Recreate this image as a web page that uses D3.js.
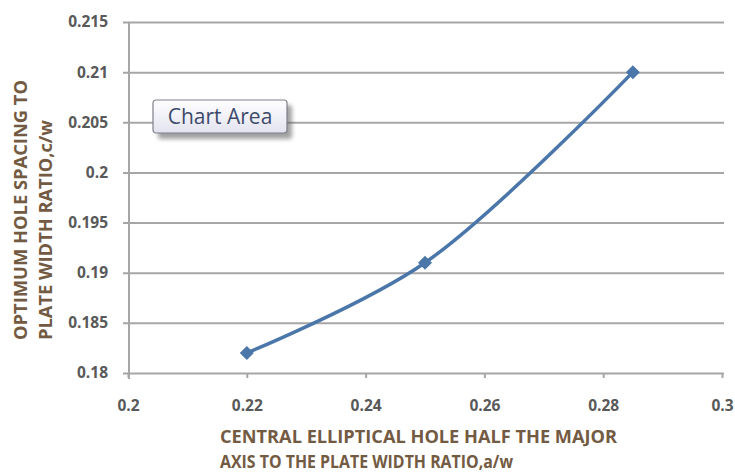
<!DOCTYPE html>
<html>
<head>
<meta charset="utf-8">
<script src="https://cdn.jsdelivr.net/npm/d3@7"></script>
<style>
  html, body { margin: 0; padding: 0; background: #ffffff; }
  svg { display: block; }
</style>
</head>
<body>
<svg id="chart" width="735" height="473"></svg>
<script>
// Central elliptical hole half major axis ratio (a/w) vs optimum hole spacing ratio (c/w)
const aOverW = [0.22, 0.25, 0.285];
const cOverW = [0.182, 0.191, 0.21];
const xTicks = [0.2, 0.22, 0.24, 0.26, 0.28, 0.3];
const yTicks = [0.18, 0.185, 0.19, 0.195, 0.2, 0.205, 0.21, 0.215];
const xTitleLines = ["CENTRAL ELLIPTICAL HOLE HALF THE MAJOR", "AXIS TO THE PLATE WIDTH RATIO,a/w"];
const yTitleLines = ["OPTIMUM HOLE SPACING TO", "PLATE WIDTH RATIO,c/w"];

const svg = d3.select("#chart");
const plotL = 129, plotR = 723, plotT = 22, plotB = 373;

const x = d3.scaleLinear().domain([0.2, 0.3]).range([plotL - 1, plotR - 1]);
const y = d3.scaleLinear().domain([0.18, 0.215]).range([plotB, plotT]);

const gridColor = "#a6a6a6";
const labelColor = "#595959";
const titleColor = "#735a42";
const fontFam = "'Open Sans', 'Noto Sans', sans-serif";

// Horizontal gridlines with outward ticks
const yAxis = d3.axisLeft(y)
  .tickValues(yTicks)
  .tickSize(-(plotR - plotL) - 1)
  .tickPadding(14)
  .tickFormat(d => d3.format("")(+d.toFixed(3)));
const gy = svg.append("g").attr("transform", `translate(${plotL},0)`).call(yAxis);
gy.select(".domain").remove();
gy.selectAll(".tick line")
  .attr("x1", -6)
  .attr("stroke", gridColor)
  .attr("stroke-width", 2);
gy.selectAll(".tick text")
  .attr("fill", labelColor)
  .attr("font-family", fontFam)
  .attr("font-weight", "bold")
  .attr("font-size", 15.5)
  .attr("x", -21);

// Vertical axis line
svg.append("line")
  .attr("x1", plotL).attr("x2", plotL)
  .attr("y1", plotT).attr("y2", plotB + 6)
  .attr("stroke", gridColor).attr("stroke-width", 2);

// Bottom axis with tick marks
const xAxis = d3.axisBottom(x)
  .tickValues(xTicks)
  .tickSize(5)
  .tickPadding(22)
  .tickFormat(d => d3.format("")(+d.toFixed(2)));
const gx = svg.append("g").attr("transform", `translate(0,${plotB})`).call(xAxis);
gx.select(".domain").remove();
gx.selectAll(".tick line").attr("stroke", gridColor).attr("stroke-width", 2);
gx.selectAll(".tick text")
  .attr("fill", labelColor)
  .attr("font-family", fontFam)
  .attr("font-weight", "bold")
  .attr("font-size", 15.5);

// Smoothed series line
const line = d3.line()
  .x((d, i) => x(aOverW[i]))
  .y(d => y(d))
  .curve(d3.curveCatmullRom.alpha(0.5));
svg.append("path")
  .datum(cOverW)
  .attr("d", line)
  .attr("fill", "none")
  .attr("stroke", "#4a76aa")
  .attr("stroke-width", 3.5)
  .attr("stroke-linecap", "round");

// Diamond markers
svg.selectAll(".marker")
  .data(cOverW)
  .enter().append("path")
  .attr("class", "marker")
  .attr("transform", (d, i) => `translate(${x(aOverW[i])},${y(d)})`)
  .attr("d", d3.symbol().type(d3.symbolDiamond2).size(125))
  .attr("fill", "#4a76aa");

// Axis titles, each line fitted to its set width
const xTitleWidths = [397, 293];
const yTitleWidths = [260, 220];

xTitleLines.forEach((t, i) => {
  svg.append("text")
    .attr("x", 220)
    .attr("y", 443 + i * 25)
    .attr("font-family", fontFam)
    .attr("font-weight", "bold")
    .attr("font-size", 17)
    .attr("fill", titleColor)
    .attr("textLength", xTitleWidths[i])
    .attr("lengthAdjust", "spacingAndGlyphs")
    .text(t);
});

yTitleLines.forEach((t, i) => {
  svg.append("text")
    .attr("transform", `translate(${27 + i * 25},340) rotate(-90)`)
    .attr("font-family", fontFam)
    .attr("font-weight", "bold")
    .attr("font-size", 17)
    .attr("fill", titleColor)
    .attr("textLength", yTitleWidths[i])
    .attr("lengthAdjust", "spacingAndGlyphs")
    .text(t);
});

// "Chart Area" hover label
const defs = svg.append("defs");
const grad = defs.append("linearGradient").attr("id", "tipGrad")
  .attr("x1", 0).attr("y1", 0).attr("x2", 0).attr("y2", 1);
grad.append("stop").attr("offset", "0%").attr("stop-color", "#ffffff");
grad.append("stop").attr("offset", "100%").attr("stop-color", "#e3e3f0");
const blur = defs.append("filter").attr("id", "tipShadow")
  .attr("x", "-20%").attr("y", "-20%").attr("width", "150%").attr("height", "160%");
blur.append("feGaussianBlur").attr("stdDeviation", 2);

const tip = svg.append("g").attr("transform", "translate(153,100)");
tip.append("rect")
  .attr("x", 5).attr("y", 5).attr("width", 134).attr("height", 34)
  .attr("rx", 3).attr("fill", "#555").attr("opacity", 0.55)
  .attr("filter", "url(#tipShadow)");
tip.append("rect")
  .attr("x", 0).attr("y", 0).attr("width", 134).attr("height", 33)
  .attr("rx", 3).attr("fill", "url(#tipGrad)")
  .attr("stroke", "#7f7f8a").attr("stroke-width", 1.2);
tip.append("text")
  .attr("x", 67).attr("y", 24)
  .attr("text-anchor", "middle")
  .attr("font-family", fontFam)
  .attr("font-size", 21)
  .attr("fill", "#3d4a6b")
  .text("Chart Area");
</script>
</body>
</html>
